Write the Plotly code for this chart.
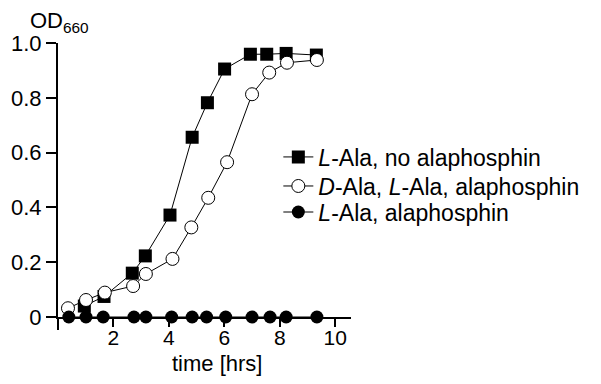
import plotly.graph_objects as go

# Data
sq_x = [0.95, 1.66, 2.68, 3.15, 4.04, 4.84, 5.39, 6.01, 6.94, 7.53, 8.23, 9.32]
sq_y = [0.04, 0.075, 0.16, 0.223, 0.372, 0.656, 0.782, 0.905, 0.959, 0.959, 0.962, 0.956]

oc_x = [0.36, 1.01, 1.69, 2.71, 3.17, 4.13, 4.81, 5.42, 6.10, 7.00, 7.62, 8.26, 9.34]
oc_y = [0.032, 0.062, 0.089, 0.113, 0.157, 0.212, 0.327, 0.435, 0.565, 0.813, 0.892, 0.928, 0.938]

fc_x = [0.39, 1.01, 1.63, 2.74, 3.17, 4.10, 4.84, 5.36, 6.05, 7.00, 7.65, 8.23, 9.34]
fc_y = [0, 0, 0, 0, 0, 0, 0, 0, 0, 0, 0, 0, 0]

names = ["<i>L</i>-Ala, no alaphosphin",
         "<i>D</i>-Ala, <i>L</i>-Ala, alaphosphin",
         "<i>L</i>-Ala, alaphosphin"]

y_ticks = [0, 0.2, 0.4, 0.6, 0.8, 1.0]
y_ticktext = ["0", "0.2", "0.4", "0.6", "0.8", "1.0"]
x_ticks = [2, 4, 6, 8, 10]

FONT = "Arial, Liberation Sans, Helvetica, sans-serif"
FS = 22
y_range = [0, 1.0]
x_range = [0, 10.57]

fig = go.Figure()
fig.add_trace(go.Scatter(x=sq_x, y=sq_y, name=names[0], mode="lines+markers",
                         line=dict(color="black", width=1),
                         marker=dict(symbol="square", size=13, color="black"),
                         cliponaxis=False, legend="legend"))
fig.add_trace(go.Scatter(x=oc_x, y=oc_y, name=names[1], mode="lines+markers",
                         line=dict(color="black", width=1),
                         marker=dict(symbol="circle", size=13, color="white",
                                     line=dict(color="black", width=1)),
                         cliponaxis=False, legend="legend2"))
fig.add_trace(go.Scatter(x=fc_x, y=fc_y, name=names[2], mode="lines+markers",
                         line=dict(color="black", width=1),
                         marker=dict(symbol="circle", size=13, color="black"),
                         cliponaxis=False, legend="legend3"))

def leg(yc):
    return dict(x=0.752, y=yc, xanchor="left", yanchor="middle",
                font=dict(size=23), bgcolor="rgba(0,0,0,0)", itemwidth=30)

fig.update_layout(
    width=593, height=376,
    margin=dict(l=50, r=250, t=35, b=67),
    paper_bgcolor="white", plot_bgcolor="white",
    font=dict(family=FONT, size=FS, color="black"),
    showlegend=True,
    legend=leg(0.584),
    legend2=leg(0.478),
    legend3=leg(0.383),
    xaxis=dict(range=x_range, tickvals=x_ticks, showgrid=False, zeroline=False,
               showline=True, linecolor="black", linewidth=2,
               ticks="outside", ticklen=8, tickwidth=2, tickcolor="black",
               tickfont=dict(size=21), automargin=False, ticklabelstandoff=-7),
    yaxis=dict(range=y_range, tickvals=y_ticks, ticktext=y_ticktext,
               showgrid=False, zeroline=False,
               showline=True, linecolor="black", linewidth=2,
               ticks="outside", ticklen=10, tickwidth=2, tickcolor="black",
               tickfont=dict(size=FS), automargin=False),
    shapes=[
        # downward extension of the y-axis line below the x-axis
        dict(type="line", xref="paper", yref="paper", x0=0, x1=0, y0=-0.047, y1=0,
             line=dict(color="black", width=2)),
    ],
    annotations=[
        dict(text="time [hrs]", x=5.75, xref="x", y=-0.168, yref="paper",
             showarrow=False, xanchor="center", yanchor="middle",
             font=dict(size=FS)),
        dict(text="OD<sub>660</sub>", x=-0.102, xref="paper", y=1.075, yref="paper",
             showarrow=False, xanchor="left", yanchor="middle",
             font=dict(size=FS)),
    ],
)

fig.write_html("out.html")
